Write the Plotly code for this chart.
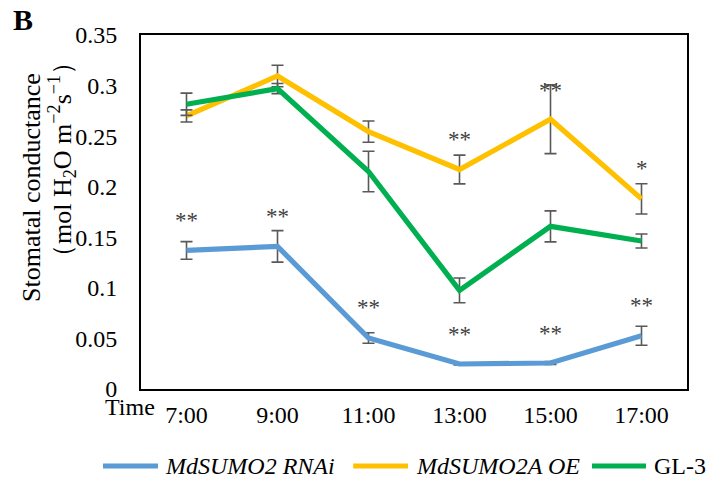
import plotly.graph_objects as go

# Sampling times and stomatal conductance (mol H2O m-2 s-1)
times = ["7:00", "9:00", "11:00", "13:00", "15:00", "17:00"]

rnai_mean = [0.137, 0.141, 0.0504, 0.0247, 0.0257, 0.0527]
rnai_err = [0.0087, 0.0156, 0.0052, 0.0010, 0.0015, 0.0094]

oe_mean = [0.270, 0.3095, 0.2545, 0.217, 0.2667, 0.188]
oe_err = [0.006, 0.0106, 0.0105, 0.0142, 0.034, 0.015]

gl3_mean = [0.2815, 0.297, 0.215, 0.0975, 0.1608, 0.1463]
gl3_err = [0.011, 0.005, 0.020, 0.0122, 0.0153, 0.0069]

# Significance marks: (time index, y of mark, label)
sig_marks = [
    (0, 0.1707, "**"), (1, 0.1746, "**"), (2, 0.0850, "**"),
    (3, 0.0586, "**"), (4, 0.0596, "**"), (5, 0.0866, "**"),
    (3, 0.2514, "**"), (4, 0.2992, "**"), (5, 0.2228, "*"),
]

series_names = ["<i>MdSUMO2 RNAi</i>", "<i>MdSUMO2A OE</i>", "GL-3"]
colors = ["#5B9BD5", "#FFC000", "#00B050"]

SERIF = "Liberation Serif, Times New Roman, serif"
ERR_COLOR = "#595959"

x_idx = list(range(len(times)))

fig = go.Figure()
for mean, err, color in zip([rnai_mean, oe_mean, gl3_mean],
                            [rnai_err, oe_err, gl3_err], colors):
    fig.add_trace(go.Scatter(
        x=x_idx, y=mean, mode="lines",
        line=dict(color=color, width=5.2),
        error_y=dict(type="data", array=err, visible=True,
                     color=ERR_COLOR, thickness=1.6, width=6),
        showlegend=False,
    ))

annotations = []
for i, y, lab in sig_marks:
    annotations.append(dict(
        x=i, y=y - 0.0045, xref="x", yref="y", text=lab, showarrow=False,
        font=dict(family=SERIF, size=23, color="#404040"),
        xanchor="center", yanchor="middle",
    ))

# Axis title (two lines) and panel letter
annotations += [
    dict(x=-0.2015, y=0.5706, xref="paper", yref="paper",
         text="Stomatal conductance", textangle=-90, showarrow=False,
         font=dict(family=SERIF, size=26, color="black"),
         xanchor="center", yanchor="middle"),
    dict(x=-0.1447, y=0.6497, xref="paper", yref="paper",
         text="（mol H<sub>2</sub>O m<sup>−2</sup>s<sup>−1</sup>）",
         textangle=-90, showarrow=False,
         font=dict(family=SERIF, size=26, color="black"),
         xanchor="center", yanchor="middle"),
    dict(x=-0.2161, y=1.045, xref="paper", yref="paper",
         text="<b>B</b>", showarrow=False,
         font=dict(family=SERIF, size=30, color="black"),
         xanchor="center", yanchor="middle"),
    dict(x=-0.0201, y=-0.05, xref="paper", yref="paper",
         text="Time", showarrow=False,
         font=dict(family=SERIF, size=24, color="black"),
         xanchor="center", yanchor="middle"),
]

# Legend row below the plot
shapes = []
leg_y = -0.2175
leg_items = [(-0.0696, 0.0311, 0.0403), (0.3887, 0.4890, 0.5000),
             (0.8260, 0.9249, 0.9359)]
for (x0, x1, xt), name, color in zip(leg_items, series_names, colors):
    shapes.append(dict(type="line", xref="paper", yref="paper",
                       x0=x0, x1=x1, y0=leg_y, y1=leg_y,
                       line=dict(color=color, width=5.2)))
    annotations.append(dict(x=xt, y=leg_y, xref="paper", yref="paper",
                            text=name, showarrow=False,
                            font=dict(family=SERIF, size=24, color="black"),
                            xanchor="left", yanchor="middle"))

fig.update_layout(
    width=714, height=479,
    margin=dict(l=141, r=27, t=35, b=90),
    paper_bgcolor="white", plot_bgcolor="white",
    annotations=annotations, shapes=shapes,
    font=dict(family=SERIF, size=24, color="black"),
)
fig.update_xaxes(
    range=[-0.5, 5.5], tickvals=x_idx, ticktext=times,
    showgrid=False, zeroline=False,
    showline=True, linecolor="black", linewidth=2, mirror=True,
    ticks="", ticklabelstandoff=3,
    tickfont=dict(family=SERIF, size=24, color="black"),
)
fig.update_yaxes(
    range=[0, 0.35], dtick=0.05, tick0=0,
    showgrid=False, zeroline=False,
    showline=True, linecolor="black", linewidth=2, mirror=True,
    ticks="", ticklabelstandoff=17,
    tickfont=dict(family=SERIF, size=24, color="black"),
)

fig.write_html("out.html")
